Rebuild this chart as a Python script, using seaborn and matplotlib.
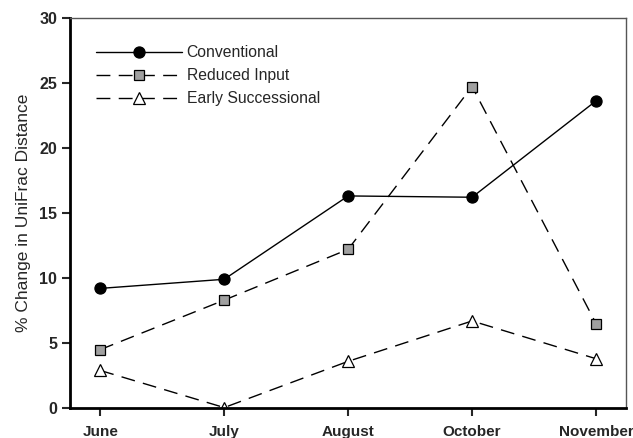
import pandas as pd
import matplotlib
matplotlib.use("Agg")
import matplotlib.pyplot as plt
import seaborn as sns

# Data
months = ["June", "July", "August", "October", "November"]
conventional = [9.2, 9.9, 16.3, 16.2, 23.6]
reduced_input = [4.5, 8.3, 12.2, 24.7, 6.5]
early_successional = [2.9, 0.05, 3.6, 6.7, 3.8]

sns.set_style("ticks")
plt.rcParams['font.family'] = ['Liberation Sans', 'DejaVu Sans']

df = pd.DataFrame({
    "x": list(range(len(months))) * 3,
    "value": conventional + reduced_input + early_successional,
    "series": (["Conventional"] * 5 + ["Reduced Input"] * 5
               + ["Early Successional"] * 5),
})

fig, ax = plt.subplots(figsize=(6.33, 4.38), dpi=100)

styles = {
    "Conventional": dict(marker="o", markerfacecolor="black", ms=8),
    "Reduced Input": dict(marker="s", markerfacecolor="#a0a0a0", ms=7),
    "Early Successional": dict(marker="^", markerfacecolor="white", ms=8),
}

for name, st in styles.items():
    sub = df[df["series"] == name]
    sns.lineplot(data=sub, x="x", y="value", ax=ax, color="black",
                 lw=1.0, marker=st["marker"],
                 markerfacecolor=st["markerfacecolor"],
                 markeredgecolor="black", markeredgewidth=0.9,
                 markersize=st["ms"], label=name)
    if name != "Conventional":
        ax.lines[-1].set_dashes([10, 6])

ax.set_xlim(-0.242, 4.242)
ax.set_ylim(0, 30)
ax.set_xticks(range(len(months)))
ax.set_xticklabels(months, fontsize=11, fontweight="bold")
ax.set_yticks([0, 5, 10, 15, 20, 25, 30])
ax.tick_params(axis="y", labelsize=11.5, width=1.5, length=6, direction="out")
ax.tick_params(axis="x", width=1.5, length=6, direction="out", pad=6)
for lbl in ax.get_yticklabels():
    lbl.set_fontweight("bold")
ax.set_xlabel("")
ax.set_ylabel("% Change in UniFrac Distance", fontsize=12.5, labelpad=6)

for side in ["left", "bottom"]:
    ax.spines[side].set_linewidth(2.0)
    ax.spines[side].set_color("black")
for side in ["top", "right"]:
    ax.spines[side].set_linewidth(1.0)
    ax.spines[side].set_color("#555555")

ax.legend(loc="upper left", frameon=False, fontsize=11.3,
          handlelength=5.5, bbox_to_anchor=(0.02, 0.965),
          labelspacing=0.5, handletextpad=0.3)

fig.subplots_adjust(left=0.111, right=0.989, top=0.96, bottom=0.068)
fig.savefig("out.png", dpi=100)
